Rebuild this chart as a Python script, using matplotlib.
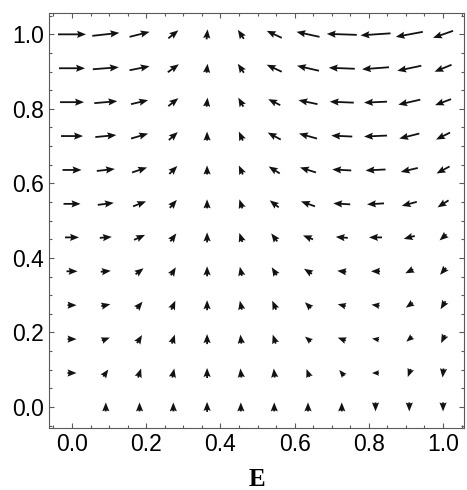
#!/usr/bin/env python3
import matplotlib

matplotlib.use("Agg")
import matplotlib.pyplot as plt
from matplotlib.ticker import MultipleLocator
import numpy as np


# sampling grid of the vector field (12 x 12)
E_GRID = [0.0, 0.091, 0.182, 0.273, 0.364, 0.455, 0.545, 0.636, 0.727, 0.818, 0.909, 1.0]
Y_GRID = [1.0, 0.909, 0.818, 0.727, 0.636, 0.545, 0.455, 0.364, 0.273, 0.182, 0.091, 0.0]

# arrow components (screen pixels), one row per Y_GRID value
U_ROWS = [
    [28, 27, 20, 10, 1, -6, -15, -23, -30, -30, -27, -20],
    [26, 26, 20, 11, 1, -6, -15, -22, -26, -27, -24, -17],
    [24, 23, 17, 10, 1, -5, -12, -19, -24, -23, -22, -16],
    [22, 21, 17, 9, 0, -4, -13, -18, -21, -23, -20, -14],
    [19, 18, 15, 8, 0, -4, -11, -16, -19, -20, -17, -13],
    [17, 16, 13, 7, 0, -3, -9, -14, -17, -17, -15, -11],
    [14, 12, 11, 6, 0, -3, -6, -10, -12, -13, -11, -7],
    [11, 10, 8, 5, 0, -2, -5, -8, -9, -9, -8, -6],
    [9, 9, 6, 4, 0, -2, -4, -6, -8, -8, -7, -5],
    [9, 8, 5, 3, 0, -1, -3, -6, -8, -7, -6, -4],
    [9, 5, 3, 2, 0, -1, -1, -3, -5, -7, -3, -1],
    [0, 0, 0, 0, 0, 0, 0, 0, 0, 0, 0, 0],
]
V_ROWS = [
    [0, 3, 5, 8, 10, 9, 7, 5, 1, -2, -5, -7],
    [0, 2, 4, 8, 9, 9, 7, 5, 1, -2, -5, -7],
    [0, 2, 4, 8, 9, 9, 6, 4, 1, -1, -5, -6],
    [0, 2, 5, 8, 9, 9, 7, 5, 1, -1, -5, -7],
    [0, 2, 5, 8, 9, 9, 7, 5, 1, -1, -4, -7],
    [0, 2, 5, 8, 9, 9, 7, 5, 1, -1, -4, -7],
    [0, 1, 5, 8, 10, 9, 8, 4, 1, 0, -3, -6],
    [0, 1, 6, 8, 10, 9, 8, 5, 1, 0, -4, -7],
    [0, 2, 7, 9, 10, 9, 9, 6, 2, 1, -5, -8],
    [0, 3, 8, 9, 10, 9, 9, 5, 3, 1, -5, -8],
    [0, 7, 9, 9, 10, 9, 9, 8, 6, 0, -8, -9],
    [0, 9, 9, 9, 10, 9, 9, 9, 9, -9, -9, -9],
]

X_TICKS = [0.0, 0.2, 0.4, 0.6, 0.8, 1.0]
Y_TICKS = [0.0, 0.2, 0.4, 0.6, 0.8, 1.0]
X_LABEL = "E"

ARROW_COLOR = "#121212"
FRAME_COLOR = "#5a5a5a"

FIG_W, FIG_H, DPI = 4.67, 4.90, 100


def main() -> None:
    fig = plt.figure(figsize=(FIG_W, FIG_H), dpi=DPI)
    ax = fig.add_axes([0.105, 0.127, 0.889, 0.847])

    ee, yy = np.meshgrid(E_GRID, Y_GRID)
    u = np.array(U_ROWS, dtype=float)
    v = np.array(V_ROWS, dtype=float)
    still = np.hypot(u, v) == 0
    u = np.ma.masked_where(still, u)
    v = np.ma.masked_where(still, v)

    ax.quiver(
        ee, yy, u, v,
        angles="uv",
        scale_units="dots",
        scale=1,
        units="dots",
        width=1.8,
        headwidth=4.0,
        headlength=5.0,
        headaxislength=4.4,
        pivot="middle",
        color=ARROW_COLOR,
    )

    ax.set_xlim(-0.062, 1.057)
    ax.set_ylim(-0.056, 1.058)

    ax.set_xticks(X_TICKS)
    ax.set_yticks(Y_TICKS)
    ax.set_xticklabels([f"{t:.1f}" for t in X_TICKS])
    ax.set_yticklabels([f"{t:.1f}" for t in Y_TICKS])
    ax.xaxis.set_minor_locator(MultipleLocator(0.05))
    ax.yaxis.set_minor_locator(MultipleLocator(0.05))

    ax.tick_params(which="both", direction="in", top=True, right=True,
                   color=FRAME_COLOR, width=0.8)
    ax.tick_params(which="major", length=3.5, labelsize=16.5, pad=3.5)
    ax.tick_params(which="minor", length=2.0)
    for label in ax.get_xticklabels() + ax.get_yticklabels():
        label.set_fontfamily("Liberation Sans")

    for spine in ax.spines.values():
        spine.set_color(FRAME_COLOR)
        spine.set_linewidth(0.8)

    ax.set_xlabel(X_LABEL, fontfamily="Liberation Serif", fontweight="bold",
                  fontsize=18, labelpad=9)

    fig.savefig("out.png", dpi=DPI)
    plt.close(fig)


if __name__ == "__main__":
    main()
